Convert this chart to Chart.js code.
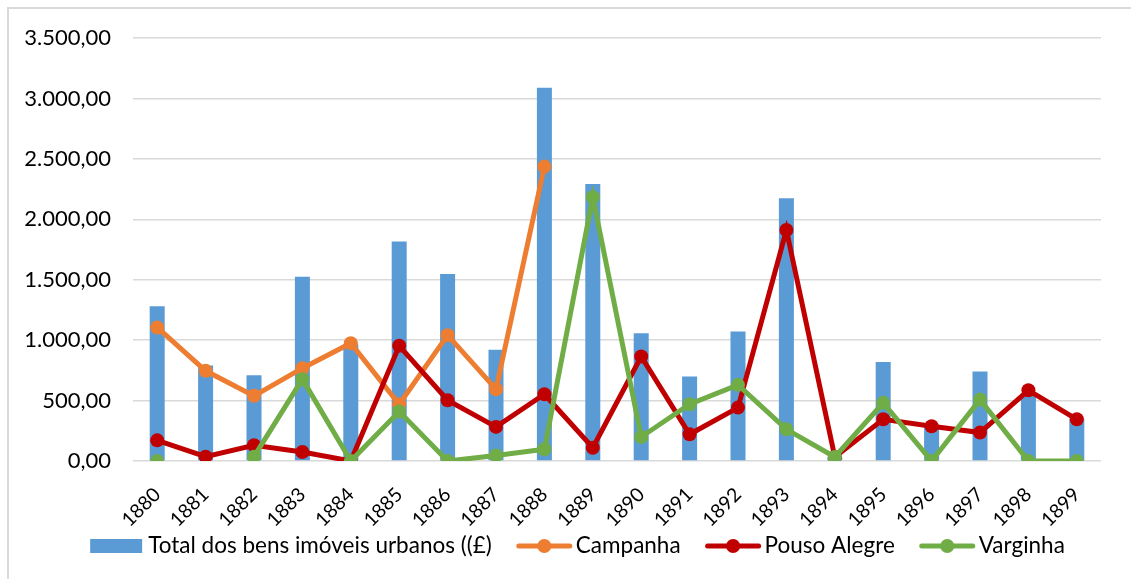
<!DOCTYPE html>
<html>
<head>
<meta charset="utf-8">
<script src="https://cdn.jsdelivr.net/npm/chart.js@4"></script>
<style>
  html, body { margin: 0; padding: 0; background: #fff; overflow: hidden; }
  #frame { position: absolute; left: 7px; top: 7px; width: 1300px; height: 800px;
           border-left: 2px solid #d9d9d9; border-top: 2px solid #d9d9d9; box-sizing: border-box; }
  #wrap { position: absolute; left: 0; top: 0; width: 1131px; height: 579px; }
</style>
</head>
<body>
<div id="frame"></div>
<div id="wrap"><canvas id="c" width="1131" height="579"></canvas></div>
<script>
// Years on the category axis
const years = ['1880','1881','1882','1883','1884','1885','1886','1887','1888','1889',
               '1890','1891','1892','1893','1894','1895','1896','1897','1898','1899'];

// Total value of urban real estate (£)
const totalUrbanos = [1280, 790, 710, 1525, 965, 1817, 1547, 920, 3088, 2292,
                      1058, 699, 1072, 2174, 30, 820, 290, 740, 560, 350];

// Campanha (series ends in 1888)
const campanha = [1105, 746, 539, 768, 975, 470, 1041, 594, 2436, null,
                  null, null, null, null, null, null, null, null, null, null];

// Pouso Alegre
const pousoAlegre = [171, 36, 130, 75, 0, 953, 503, 282, 552, 110,
                     865, 221, 442, 1911, 33, 345, 287, 235, 585, 345];

// Varginha (no value for 1881)
const varginha = [0, null, 36, 677, 0, 409, 0, 45, 97, 2182,
                  199, 470, 630, 262, 33, 481, 0, 508, 0, 0];

// Y-axis tick values
const yTicks = [0, 500, 1000, 1500, 2000, 2500, 3000, 3500];

const BLUE = '#5B9BD5', ORANGE = '#ED7D31', RED = '#C00000', GREEN = '#70AD47';
const FONT = 'Lato';

function fmt(v) {
  const s = Math.round(v).toString().replace(/\B(?=(\d{3})+(?!\d))/g, '.');
  return s + ',00';
}

const lineStyle = (color) => ({
  type: 'line',
  borderColor: color,
  backgroundColor: color,
  borderWidth: 5,
  pointRadius: 7,
  pointHoverRadius: 7,
  pointBorderWidth: 0,
  pointBackgroundColor: color,
  tension: 0,
  spanGaps: false
});

const data = {
  labels: years,
  datasets: [
    { type: 'bar', label: 'Total dos bens imóveis urbanos ((£)', data: totalUrbanos,
      backgroundColor: BLUE, borderWidth: 0, categoryPercentage: 1.0, barPercentage: 0.31, order: 3 },
    Object.assign(lineStyle(ORANGE), { label: 'Campanha', data: campanha, order: 2 }),
    Object.assign(lineStyle(RED), { label: 'Pouso Alegre', data: pousoAlegre, order: 1 }),
    Object.assign(lineStyle(GREEN), { label: 'Varginha', data: varginha, order: 0 })
  ]
};

// Legend row under the axis: box for the bar series, line + marker for line series
const bottomLegend = {
  id: 'bottomLegend',
  afterDraw(chart) {
    const ctx = chart.ctx;
    const font = '22.5px ' + FONT;
    const cy = 546, iconW = 53, gapIn = 5, gapOut = 26;
    ctx.save();
    ctx.font = font;
    const items = chart.data.datasets.map(ds => ({ ds, w: ctx.measureText(ds.label).width }));
    const total = items.reduce((s, it) => s + iconW + gapIn + it.w, 0) + gapOut * (items.length - 1);
    let x = 577.5 - total / 2;
    items.forEach(({ ds, w }) => {
      const color = ds.borderColor || ds.backgroundColor;
      if (ds.type === 'bar') {
        ctx.fillStyle = ds.backgroundColor;
        ctx.fillRect(x, cy - 7, iconW - 1, 14);
      } else {
        ctx.strokeStyle = color;
        ctx.lineWidth = 5;
        ctx.lineCap = 'round';
        ctx.beginPath(); ctx.moveTo(x + 1, cy); ctx.lineTo(x + iconW - 1, cy); ctx.stroke();
        ctx.fillStyle = color;
        ctx.beginPath(); ctx.arc(x + iconW / 2, cy, 7, 0, Math.PI * 2); ctx.fill();
      }
      x += iconW + gapIn;
      ctx.fillStyle = '#000';
      ctx.textBaseline = 'middle';
      ctx.textAlign = 'left';
      ctx.fillText(ds.label, x, cy);
      x += w + gapOut;
    });
    ctx.restore();
  }
};

new Chart(document.getElementById('c'), {
  data,
  plugins: [bottomLegend],
  options: {
    responsive: false,
    animation: false,
    layout: { padding: { left: 0, right: 30, top: 38, bottom: 48 } },
    scales: {
      x: {
        afterFit: (axis) => { axis.height = 70; },
        grid: { display: false, drawTicks: false },
        border: { display: false },
        ticks: { color: '#000', font: { family: FONT, size: 19.5 }, maxRotation: 45, minRotation: 45,
                 padding: 22, autoSkip: false }
      },
      y: {
        min: 0, max: 3500,
        afterBuildTicks: (axis) => { axis.ticks = yTicks.map(v => ({ value: v })); },
        afterFit: (axis) => { axis.width = 133; },
        grid: { color: '#d9d9d9', lineWidth: 1.5, drawTicks: false },
        border: { display: false },
        ticks: { color: '#000', font: { family: FONT, size: 22 }, padding: 22, callback: (v) => fmt(v) }
      }
    },
    plugins: {
      tooltip: { enabled: false },
      legend: { display: false }
    }
  }
});
</script>
</body>
</html>
